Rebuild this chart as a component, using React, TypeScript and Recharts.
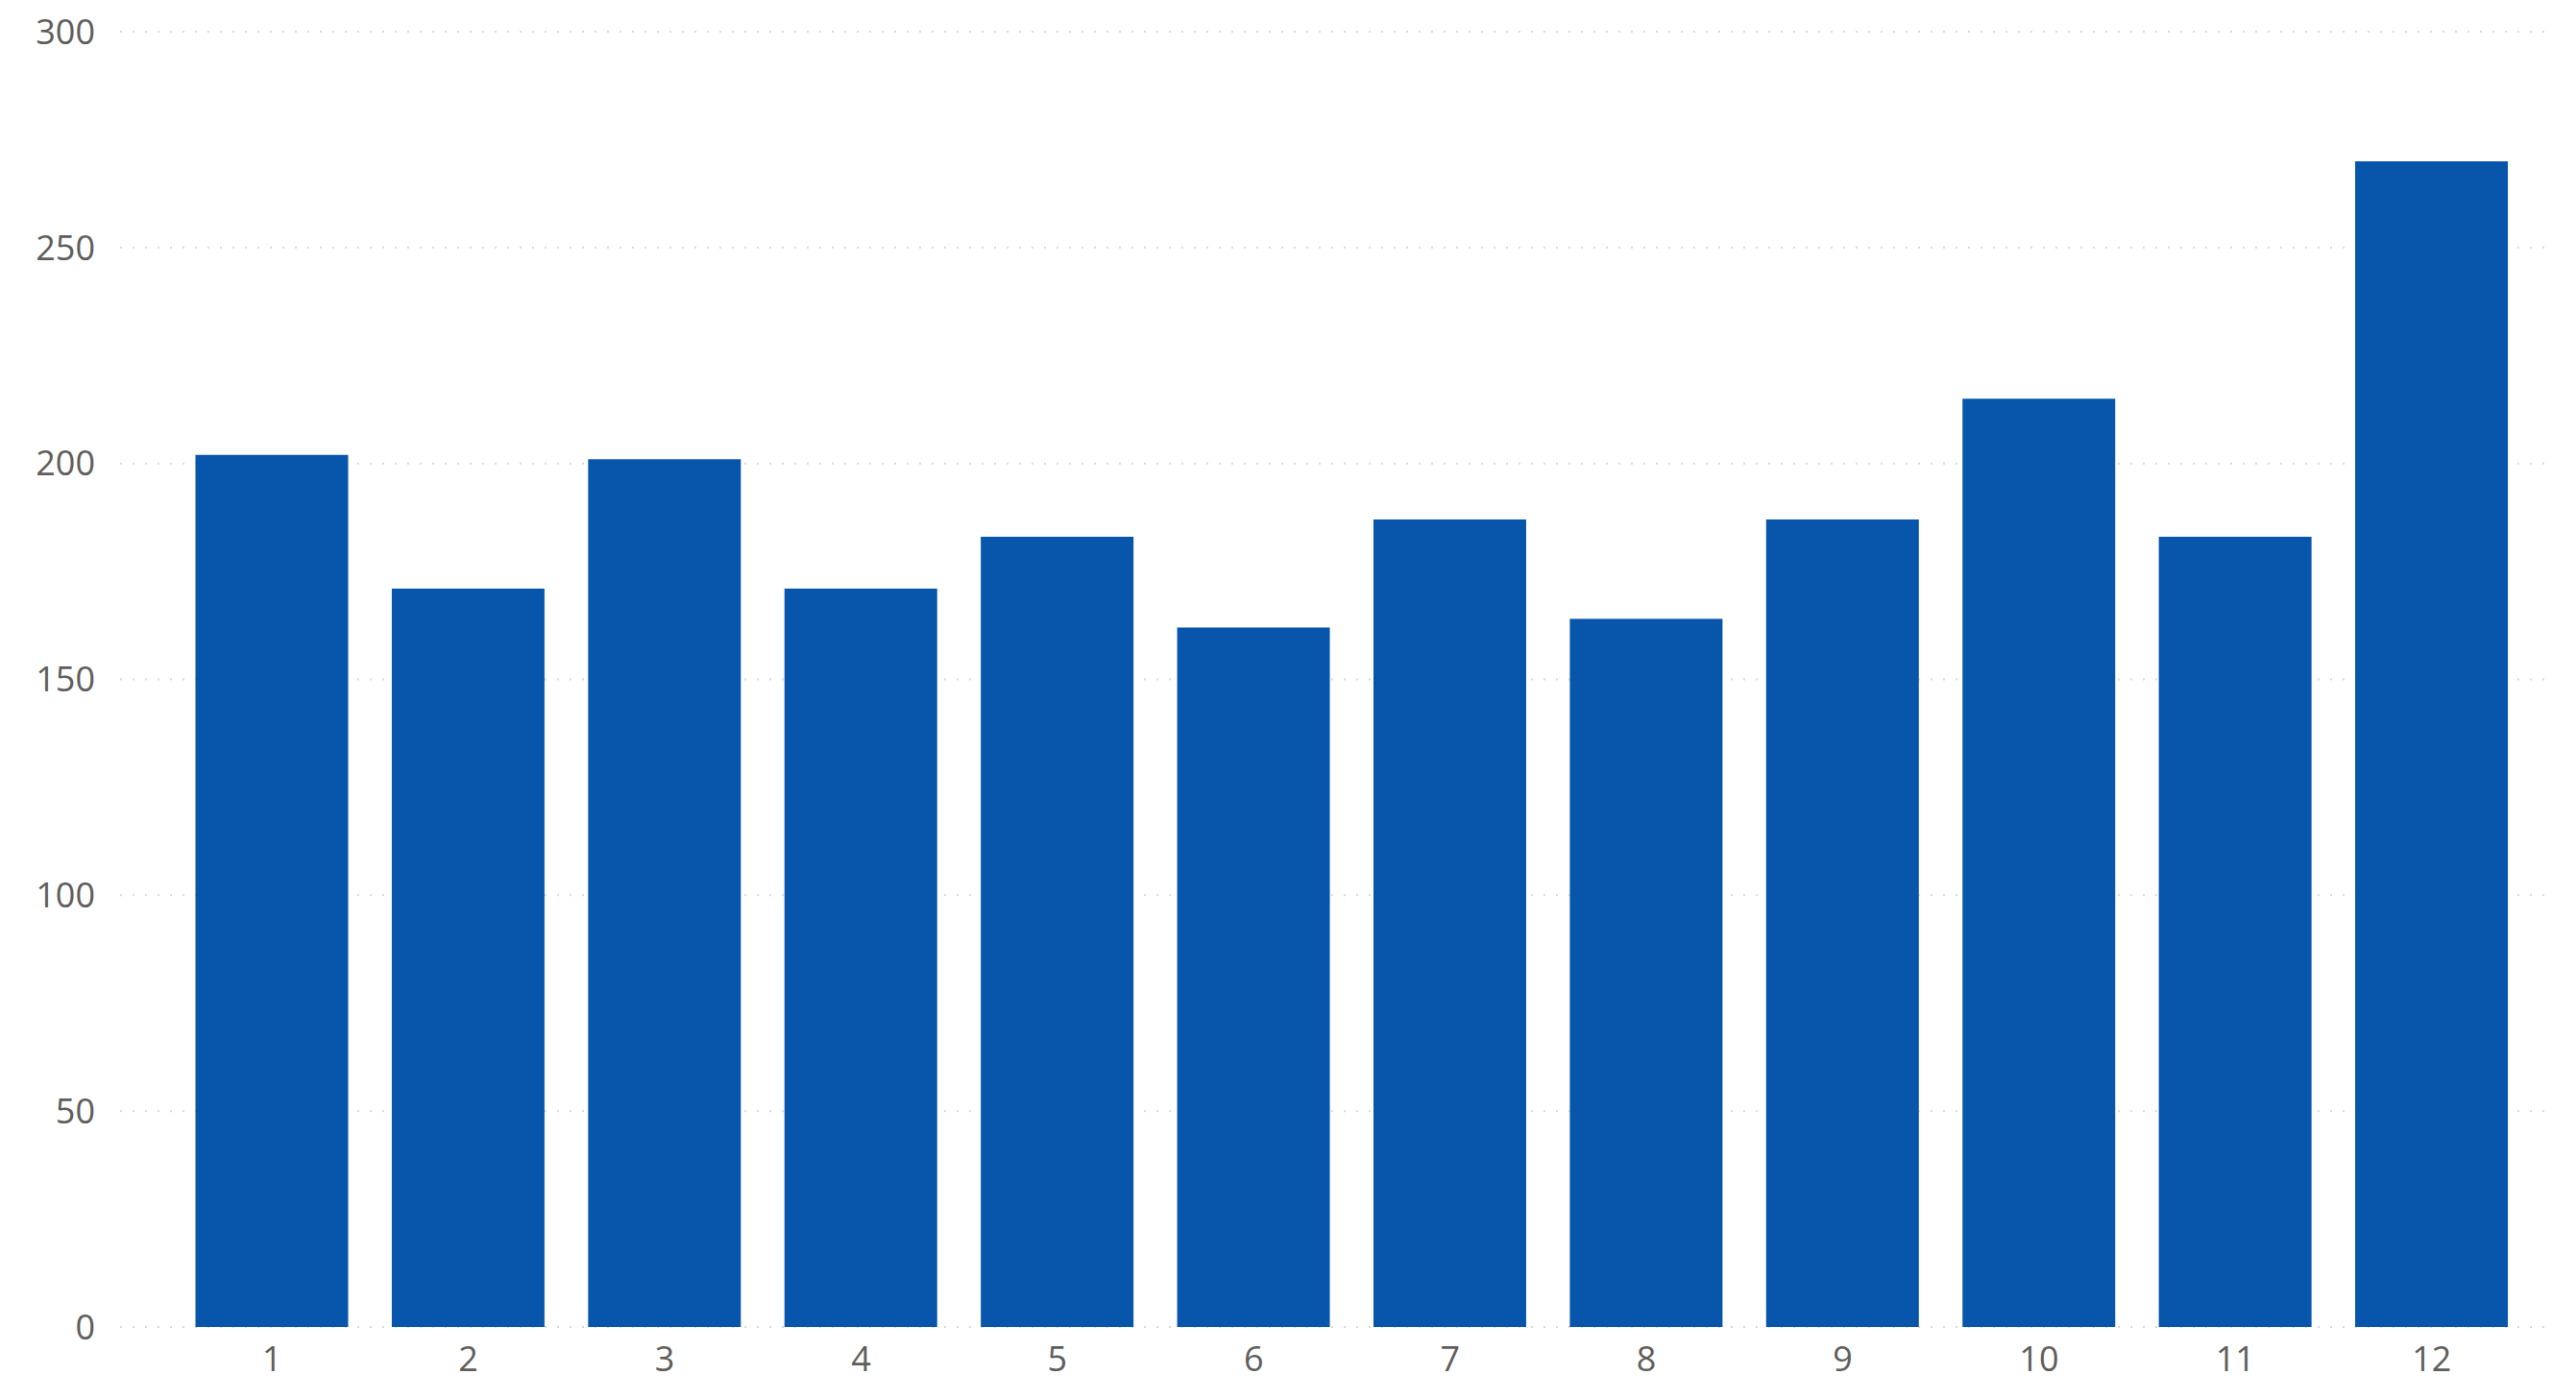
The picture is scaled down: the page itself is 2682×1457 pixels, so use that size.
import { BarChart, Bar, XAxis, YAxis, CartesianGrid } from 'recharts'

const months = ['1', '2', '3', '4', '5', '6', '7', '8', '9', '10', '11', '12']
const counts = [202, 171, 201, 171, 183, 162, 187, 164, 187, 215, 183, 270]
const yTicks = [0, 50, 100, 150, 200, 250, 300]

const data = months.map((m, i) => ({ month: m, count: counts[i] }))

const tickStyle = { fontSize: 36, fill: '#605E5C', fontFamily: "'Segoe UI', 'Open Sans', sans-serif" }

export default function App() {
  return (
    <div style={{ position: 'absolute', left: 0, top: 0, width: 2682, height: 1457, background: '#fff' }}>
      <BarChart width={2682} height={1457} data={data}
        margin={{ top: 33, right: 31, bottom: 0, left: 0 }} barCategoryGap="11%">
        <CartesianGrid vertical={false} stroke="#d9d9d9" strokeWidth={2} strokeDasharray="2 11" />
        <XAxis dataKey="month" axisLine={false} tickLine={false} tickSize={0} tickMargin={20}
          height={75} tick={tickStyle} padding={{ left: 56, right: 17 }} interval={0} />
        <YAxis domain={[0, 300]} ticks={yTicks} axisLine={false} tickLine={false} tickSize={0}
          tickMargin={26} width={125} tick={tickStyle} />
        <Bar dataKey="count" fill="#0856AC" isAnimationActive={false} />
      </BarChart>
    </div>
  )
}
